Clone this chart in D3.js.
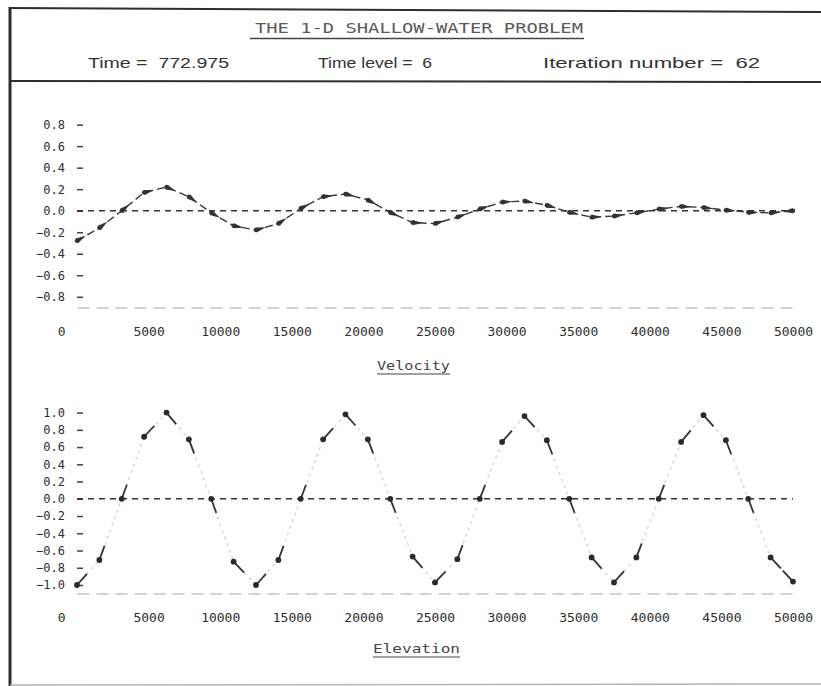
<!DOCTYPE html>
<html>
<head>
<meta charset="utf-8">
<script src="https://cdn.jsdelivr.net/npm/d3@7"></script>
<style>
  body { margin: 0; background: #fff; }
  svg { display: block; }
  text { fill: #2b2b2b; }
</style>
</head>
<body>
<svg id="chart" width="821" height="686"></svg>
<script>
// ---- run header ----
const titleText = "THE 1-D SHALLOW-WATER PROBLEM";
const headerLabels = ["Time =  772.975", "Time level =  6", "Iteration number =  62"];

// ---- grid positions along the channel ----
const positions = [0, 1562.5, 3125, 4687.5, 6250, 7812.5, 9375, 10937.5, 12500, 14062.5,
  15625, 17187.5, 18750, 20312.5, 21875, 23437.5, 25000, 26562.5, 28125, 29687.5,
  31250, 32812.5, 34375, 35937.5, 37500, 39062.5, 40625, 42187.5, 43750, 45312.5,
  46875, 48437.5, 50000];

// ---- solution at this time level ----
const velocity = [-0.28, -0.16, 0.00, 0.17, 0.22, 0.13, -0.02, -0.14, -0.18, -0.12,
  0.02, 0.13, 0.155, 0.10, -0.015, -0.11, -0.12, -0.06, 0.015, 0.08,
  0.09, 0.05, -0.015, -0.06, -0.05, -0.02, 0.015, 0.04, 0.03, 0.005,
  -0.015, -0.02, 0.00];

const elevation = [-1.00, -0.71, 0.00, 0.72, 1.00, 0.69, 0.00, -0.73, -1.00, -0.71,
  0.00, 0.69, 0.98, 0.69, 0.00, -0.67, -0.97, -0.70, 0.00, 0.66,
  0.96, 0.68, 0.00, -0.68, -0.97, -0.68, 0.00, 0.66, 0.97, 0.68,
  0.00, -0.68, -0.96];

// ---- tick labels ----
const xTicks = [0, 5000, 10000, 15000, 20000, 25000, 30000, 35000, 40000, 45000, 50000];
const velocityTicks = [-0.8, -0.6, -0.4, -0.2, 0.0, 0.2, 0.4, 0.6, 0.8];
const elevationTicks = [-1.0, -0.8, -0.6, -0.4, -0.2, 0.0, 0.2, 0.4, 0.6, 0.8, 1.0];

const svg = d3.select("#chart");
const ink = "#2e2e2e";
const monoFont = "'DejaVu Sans Mono', 'Liberation Mono', monospace";
const sansFont = "'Liberation Sans', 'DejaVu Sans', sans-serif";

// ---- frame ----
const frame = svg.append("g").attr("stroke", ink).attr("fill", "none");
frame.append("line").attr("x1", 10).attr("y1", 8).attr("x2", 821).attr("y2", 12).attr("stroke-width", 2);
frame.append("line").attr("x1", 10).attr("y1", 7).attr("x2", 10).attr("y2", 686).attr("stroke-width", 3);
frame.append("line").attr("x1", 10).attr("y1", 81).attr("x2", 821).attr("y2", 82).attr("stroke-width", 2);
frame.append("line").attr("x1", 10).attr("y1", 685).attr("x2", 821).attr("y2", 684)
  .attr("stroke", "#b5b5b5").attr("stroke-width", 1.5);

// ---- title & run info ----
svg.append("text")
  .attr("x", 255).attr("y", 33)
  .attr("font-family", monoFont).attr("font-size", 14)
  .attr("textLength", 328).attr("lengthAdjust", "spacingAndGlyphs")
  .style("fill", "#5a5a5a")
  .text(titleText);
svg.append("line").attr("x1", 250).attr("y1", 38.5).attr("x2", 584).attr("y2", 38.5)
  .attr("stroke", "#444").attr("stroke-width", 1.6);

const headerX = [88, 318, 543];
const headerW = [141, 114, 217];
headerLabels.forEach((t, i) => {
  svg.append("text")
    .attr("x", headerX[i]).attr("y", 68)
    .attr("font-family", sansFont).attr("font-size", 14.5)
    .attr("textLength", headerW[i]).attr("lengthAdjust", "spacingAndGlyphs")
    .attr("xml:space", "preserve")
    .style("fill", "#333")
    .text(t);
});

// ---- shared horizontal scale ----
const x = d3.scaleLinear().domain([0, 50000]).range([77, 793]);

function drawPanel(cfg) {
  const g = svg.append("g");
  const y = cfg.y;

  // baseline along the bottom of the panel
  const xAxis = d3.axisBottom(x).tickValues(xTicks).tickSize(0).tickPadding(19)
    .tickFormat(d3.format("d"));
  const xa = g.append("g").attr("transform", `translate(0,${y.range()[0]})`).call(xAxis);
  xa.select(".domain").attr("stroke", "#c4c4c4").attr("stroke-width", 1.5)
    .attr("stroke-dasharray", "12,7");
  xa.selectAll("text")
    .attr("font-family", monoFont).attr("font-size", 13)
    .style("fill", ink)
    .attr("text-anchor", d => d === 0 ? "end" : "middle")
    .attr("dx", d => d === 0 ? -12 : 0);

  // vertical axis: short inward ticks with labels to the left
  const yAxis = d3.axisLeft(y).tickValues(cfg.ticks).tickSize(-6).tickPadding(12)
    .tickFormat(d3.format(".1f"));
  const ya = g.append("g").attr("transform", `translate(${x(0)},0)`).call(yAxis);
  ya.select(".domain").remove();
  ya.selectAll("line").attr("stroke", "#444").attr("stroke-width", 1.5);
  ya.selectAll("text").attr("font-family", monoFont).attr("font-size", 12).style("fill", ink);

  // zero reference line
  g.append("line")
    .attr("x1", x(0)).attr("x2", x(50000))
    .attr("y1", y(0)).attr("y2", y(0))
    .attr("stroke", "#333").attr("stroke-width", 1.6)
    .attr("stroke-dasharray", "6,5");

  const pts = positions.map((p, i) => [x(p), y(cfg.values[i])]);

  // connecting curve
  g.append("path")
    .attr("d", d3.line()(pts))
    .attr("fill", "none")
    .attr("stroke", cfg.lineColor).attr("stroke-width", cfg.lineWidth)
    .attr("stroke-dasharray", cfg.dash);

  // markers: a dot with a short tail pointing at the neighbouring point
  pts.forEach((p, i) => {
    const q = i < pts.length - 1 ? pts[i + 1] : pts[i - 1];
    const dx = q[0] - p[0], dy = q[1] - p[1];
    const len = Math.hypot(dx, dy) || 1;
    const ux = dx / len, uy = dy / len;
    if (cfg.marker === "wedge") {
      const w = 2.6, L = 10;
      const path = d3.path();
      path.moveTo(p[0] - uy * w, p[1] + ux * w);
      path.lineTo(p[0] + ux * L, p[1] + uy * L);
      path.lineTo(p[0] + uy * w, p[1] - ux * w);
      path.closePath();
      g.append("path").attr("d", path.toString()).attr("fill", "#333");
      g.append("circle").attr("cx", p[0]).attr("cy", p[1]).attr("r", 2.2).attr("fill", "#333");
    } else {
      const L = 15;
      g.append("line")
        .attr("x1", p[0]).attr("y1", p[1])
        .attr("x2", p[0] + ux * L).attr("y2", p[1] + uy * L)
        .attr("stroke", "#333").attr("stroke-width", 1.8);
      g.append("circle").attr("cx", p[0]).attr("cy", p[1]).attr("r", 2.9).attr("fill", "#2a2a2a");
    }
  });

  // panel caption
  svg.append("text")
    .attr("x", cfg.captionX).attr("y", cfg.captionY)
    .attr("font-family", monoFont).attr("font-size", 13)
    .attr("textLength", cfg.captionW).attr("lengthAdjust", "spacingAndGlyphs")
    .style("fill", "#444")
    .text(cfg.caption);
  svg.append("line")
    .attr("x1", cfg.captionX).attr("x2", cfg.captionX + cfg.captionW)
    .attr("y1", cfg.captionY + 4).attr("y2", cfg.captionY + 4)
    .attr("stroke", "#444").attr("stroke-width", 1.2);
}

drawPanel({
  y: d3.scaleLinear().domain([-0.9, 0.9]).range([307.5, 113.9]),
  ticks: velocityTicks,
  values: velocity,
  lineColor: "#3a3a3a", lineWidth: 1.4, dash: "8,4",
  marker: "wedge",
  caption: "Velocity", captionX: 377, captionY: 370, captionW: 73
});

drawPanel({
  y: d3.scaleLinear().domain([-1.1, 1.1]).range([593.6, 404.0]),
  ticks: elevationTicks,
  values: elevation,
  lineColor: "#d2d2d2", lineWidth: 1.3, dash: "3,4",
  marker: "tail",
  caption: "Elevation", captionX: 373, captionY: 653, captionW: 87
});
</script>
</body>
</html>
